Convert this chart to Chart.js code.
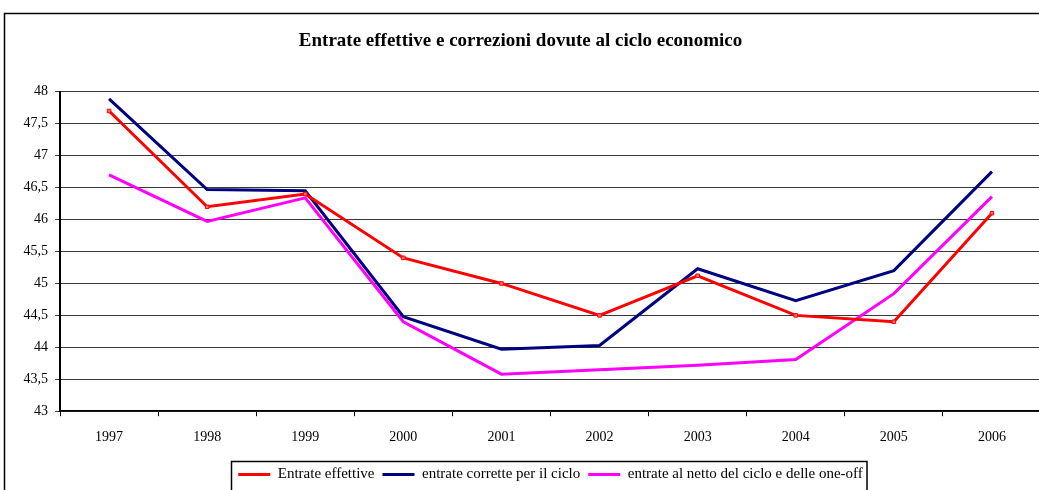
<!DOCTYPE html>
<html>
<head>
<meta charset="utf-8">
<script src="https://cdn.jsdelivr.net/npm/chart.js@4.4.1/dist/chart.umd.min.js"></script>
<style>
  html, body { margin: 0; padding: 0; background: #fff; overflow: hidden; }
  #wrap { width: 1046px; height: 500px; }
</style>
</head>
<body>
<div id="wrap"><canvas id="c" width="1046" height="500"></canvas></div>
<script>
// Anni
const years = ['1997', '1998', '1999', '2000', '2001', '2002', '2003', '2004', '2005', '2006'];

// Entrate in % del PIL
const entrateEffettive = [47.70, 46.20, 46.40, 45.40, 45.00, 44.50, 45.12, 44.50, 44.40, 46.10];
const entrateCorrette  = [47.89, 46.47, 46.45, 44.48, 43.97, 44.03, 45.23, 44.73, 45.20, 46.75];
const entrateNette     = [46.70, 45.97, 46.34, 44.40, 43.58, 43.65, 43.72, 43.81, 44.84, 46.36];

const seriesNames = [
  'Entrate effettive',
  'entrate corrette per il ciclo',
  'entrate al netto del ciclo e delle one-off'
];
const seriesColors = ['#ff0000', '#000080', '#ff00ff'];

const yMin = 43, yMax = 48, yStep = 0.5;

const serif = "'Liberation Serif', 'Times New Roman', serif";

// Cornice esterna e riquadro della legenda
const frames = {
  id: 'frames',
  beforeDraw(chart) {
    const ctx = chart.ctx;
    ctx.save();
    ctx.fillStyle = '#fff';
    ctx.fillRect(0, 0, chart.width, chart.height);
    ctx.strokeStyle = '#000';
    ctx.lineWidth = 1.5;
    ctx.strokeRect(4.5, 13.5, chart.width + 20, chart.height + 20);
    ctx.restore();
  },
  afterDraw(chart) {
    const lg = chart.legend;
    if (!lg || !lg.legendHitBoxes || !lg.legendHitBoxes.length) return;
    const boxes = lg.legendHitBoxes;
    const first = boxes[0], last = boxes[boxes.length - 1];
    const left = first.left - 7;
    const right = last.left + last.width + 4;
    const top = first.top - 6;
    const ctx = chart.ctx;
    ctx.save();
    ctx.strokeStyle = '#000';
    ctx.lineWidth = 1.5;
    ctx.strokeRect(Math.round(left) + 0.5, Math.round(top) + 0.5, right - left, 60);
    ctx.restore();
  }
};

new Chart(document.getElementById('c'), {
  type: 'line',
  data: {
    labels: years,
    datasets: [
      {
        label: seriesNames[0],
        data: entrateEffettive,
        borderColor: seriesColors[0],
        backgroundColor: seriesColors[0],
        borderWidth: 3,
        pointStyle: 'rect',
        pointRadius: 2.5,
        pointBackgroundColor: '#ff7070',
        pointBorderColor: seriesColors[0],
        pointBorderWidth: 1,
        tension: 0,
        order: 1
      },
      {
        label: seriesNames[1],
        data: entrateCorrette,
        borderColor: seriesColors[1],
        backgroundColor: seriesColors[1],
        borderWidth: 3,
        pointRadius: 0,
        tension: 0,
        order: 2
      },
      {
        label: seriesNames[2],
        data: entrateNette,
        borderColor: seriesColors[2],
        backgroundColor: seriesColors[2],
        borderWidth: 3,
        pointRadius: 0,
        tension: 0,
        order: 3
      }
    ]
  },
  options: {
    responsive: false,
    animation: false,
    devicePixelRatio: 1,
    layout: { padding: { left: 0, right: 5, top: 0, bottom: 8 } },
    plugins: {
      title: {
        display: true,
        text: 'Entrate effettive e correzioni dovute al ciclo economico',
        color: '#000',
        font: { family: serif, size: 19, weight: 'bold' },
        padding: { top: 30, bottom: 39 }
      },
      legend: {
        display: true,
        position: 'bottom',
        fullSize: false,
        labels: {
          color: '#000',
          font: { family: serif, size: 15 },
          usePointStyle: true,
          pointStyle: 'line',
          pointStyleWidth: 32,
          padding: 8,
          generateLabels(chart) {
            const items = Chart.defaults.plugins.legend.labels.generateLabels(chart);
            items.forEach((it) => {
              it.pointStyle = 'line';
              it.lineWidth = 3;
              it.strokeStyle = seriesColors[it.datasetIndex];
              it.fillStyle = seriesColors[it.datasetIndex];
            });
            return items;
          }
        }
      },
      tooltip: { enabled: false }
    },
    scales: {
      x: {
        offset: true,
        grid: {
          display: true,
          drawOnChartArea: false,
          drawTicks: true,
          tickLength: 5,
          offset: true,
          color: '#000'
        },
        border: { display: true, color: '#000', width: 1.5 },
        ticks: {
          color: '#000',
          font: { family: serif, size: 14 },
          padding: 13,
          maxRotation: 0
        }
      },
      y: {
        min: yMin,
        max: yMax,
        grid: {
          color: '#383838',
          lineWidth: 1,
          tickLength: 5,
          drawTicks: true
        },
        border: { display: true, color: '#000', width: 2 },
        ticks: {
          stepSize: yStep,
          color: '#000',
          font: { family: serif, size: 14 },
          padding: 7,
          callback: (v) => String(v).replace('.', ',')
        },
        afterFit(scale) { scale.width = 60; }
      }
    }
  },
  plugins: [frames]
});
</script>
</body>
</html>
